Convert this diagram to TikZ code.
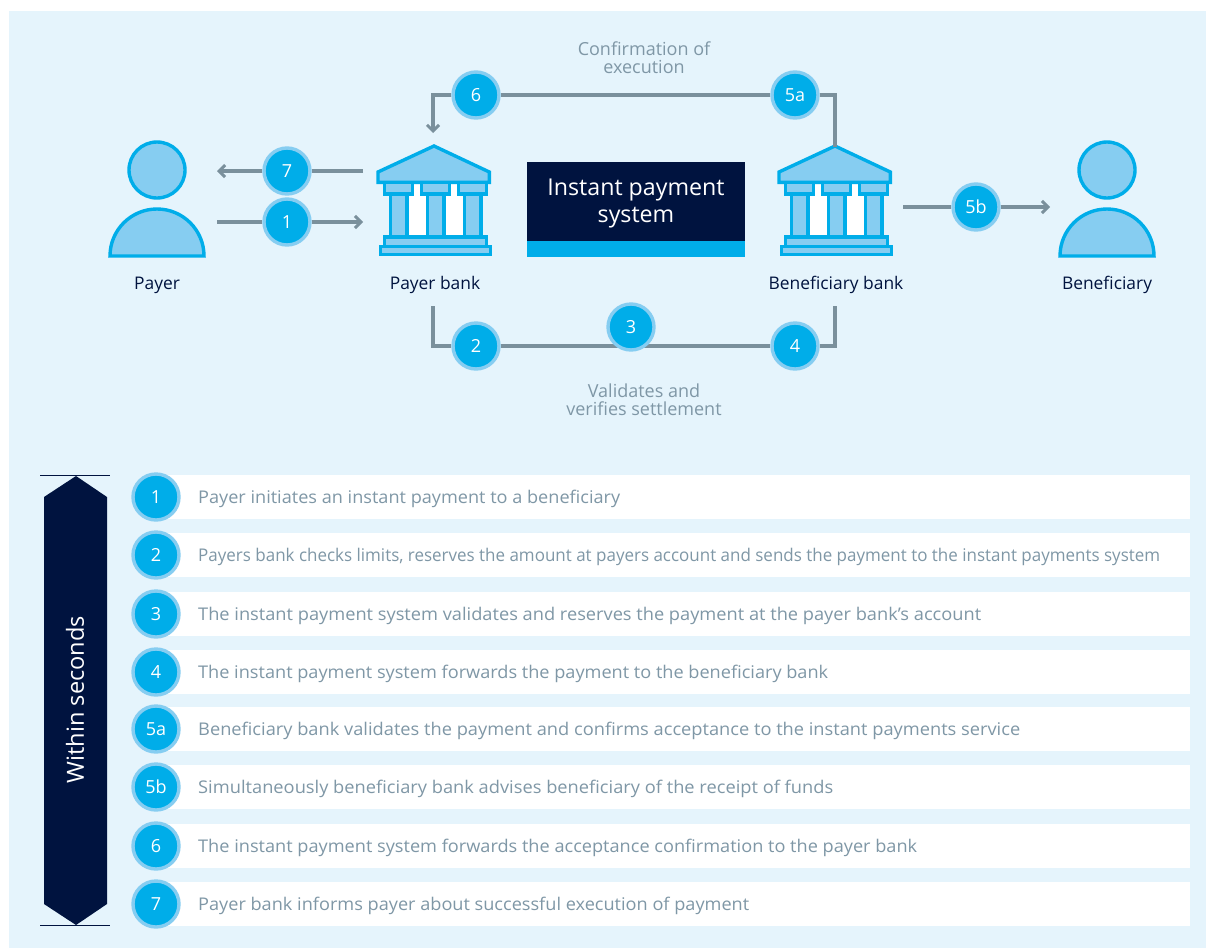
\documentclass[tikz,border=0pt]{standalone}
\usepackage{fontspec}
\setmainfont{Open Sans}
\usetikzlibrary{arrows.meta}
\definecolor{panel}{HTML}{E5F4FC}
\definecolor{navy}{HTML}{00133F}
\definecolor{sky}{HTML}{00ADE9}
\definecolor{ring}{HTML}{86CDF1}
\definecolor{conn}{HTML}{7A909C}
\definecolor{rowtext}{HTML}{7F97A6}
\tikzset{
  x=1pt,y=-1pt,
  badge/.style={circle,fill=sky,draw=ring,line width=3.4pt,minimum size=46pt,inner sep=0pt,text=white,font=\fontsize{18}{18}\selectfont},
  link/.style={draw=conn,line width=3.2pt},
  tip/.style={-{Straight Barb[length=6pt,width=12pt,line width=3pt]}},
  party/.style={text=navy,font=\fontsize{17.4}{17}\selectfont,anchor=base},
  note/.style={text=rowtext,align=center,font=\fontsize{18}{18}\selectfont,anchor=center},
  rowbox/.style={fill=white,draw=none,minimum height=44pt,minimum width=1034pt,inner sep=0pt,anchor=west},
  rowlabel/.style={text=rowtext,anchor=base west,inner sep=0pt,font=\fontsize{17.5}{18}\selectfont},
  iconpart/.style={fill=ring,draw=sky,line width=3.4pt,miter limit=3},
  bank/.pic={
    \fill[white] (-35,-18) rectangle (38,37);
    \path[iconpart,line join=miter] (0,-54) -- (55.3,-28) -- (55.3,-17.7) -- (-56,-17.7) -- (-56,-28) -- cycle;
    \foreach \c in {-35.5,1.5,38.5}{
      \path[iconpart] (\c-13.8,-17.7) rectangle (\c+13.8,-6);
      \path[iconpart] (\c-8.3,-6) rectangle (\c+8.3,37);
    }
    \path[iconpart] (-49.3,37) rectangle (52.3,46.5);
    \path[iconpart] (-53.3,46.5) rectangle (56.3,54.5);
  },
  person/.pic={
    \path[iconpart] (0,-31) circle (28);
    \path[iconpart] (-47,55) arc[start angle=180,end angle=0,x radius=47pt,y radius=47pt] -- cycle;
  }
}
\begin{document}
\begin{tikzpicture}
\useasboundingbox (0,0) rectangle (1206,948);
\fill[white] (0,0) rectangle (1206,948);
\fill[panel] (9,11) rectangle (1206,948);

% icons
\pic at (157,201) {person};
\pic at (1107,201) {person};
\pic at (434,200) {bank};
\pic at (835,200) {bank};

\node[party] (payer) at (157,289) {Payer};
\node[party] (payerbank) at (435,289) {Payer bank};
\node[party] (benbank) at (836,289) {Beneficiary bank};
\node[party] (ben) at (1107,289) {Beneficiary};

% central system
\fill[sky] (527,241) rectangle (745,257);
\node[fill=navy,minimum width=218pt,minimum height=79pt,inner sep=0pt] (ips) at (636,201.5) {};
\node[text=white,align=center,inner sep=0pt,font=\fontsize{23.2}{27}\selectfont] (ipstext) at (636,203.5) {Instant payment\\system};

% free ends of connectors
\coordinate (e7a) at (363,171);
\coordinate (e7b) at (217,171);
\coordinate (e1a) at (217,222);
\coordinate (e1b) at (363,222);
\coordinate (e6) at (433,133);
\coordinate (e5a) at (835,147);
\coordinate (e5ba) at (903,207);
\coordinate (e5bb) at (1050,207);
\coordinate (e2) at (433,306);
\coordinate (e4) at (835,306);

% badges
\node[badge] (b7) at (287,171) {7};
\node[badge] (b1) at (287,222) {1};
\node[badge] (b6) at (476,95) {6};
\node[badge] (b5a) at (795,95) {5a};
\node[badge] (b5b) at (976,207) {5b};
\node[badge] (b2) at (476,346) {2};
\node[badge] (b4) at (795,346) {4};

% connectors
\draw[link] (e7a) -- (b7);
\draw[link,tip] (b7) -- (e7b);
\draw[link] (e1a) -- (b1);
\draw[link,tip] (b1) -- (e1b);
\draw[link] (b5a) -- (b6);
\draw[link,tip] (b6) -| (e6);
\draw[link] (b5a) -| (e5a);
\draw[link] (e5ba) -- (b5b);
\draw[link,tip] (b5b) -- (e5bb);
\draw[link] (e2) |- (b2);
\draw[link] (b2) -- (b4);
\draw[link] (e4) |- (b4);

\node[badge] (b3) at (631,327) {3};

\node[note] (confirm) at (644,58) {Confirmation of\\execution};
\node[note] (valid) at (644,400) {Validates and\\verifies settlement};

% duration arrow
\fill[navy] (76,476) -- (107,497) -- (107,904) -- (76,925) -- (44,904) -- (44,497) -- cycle;
\coordinate (dl1) at (40,475.5); \coordinate (dr1) at (110,475.5);
\coordinate (dl2) at (40,925.5); \coordinate (dr2) at (110,925.5);
\draw[navy,line width=0.8pt] (dl1) -- (dr1);
\draw[navy,line width=0.8pt] (dl2) -- (dr2);
\node[rotate=90,text=white,inner sep=0pt,font=\fontsize{23.6}{24}\selectfont] (within) at (75,699.5) {Within seconds};

% rows
\foreach \yy/\lab/\tw/\txt in {
  497/1/422/Payer initiates an instant payment to a beneficiary,
  555/2/962/{Payers bank checks limits, reserves the amount at payers account and sends the payment to the instant payments system},
  614/3/783/The instant payment system validates and reserves the payment at the payer bank’s account,
  672/4/630/The instant payment system forwards the payment to the beneficiary bank,
  729/5a/822/Beneficiary bank validates the payment and confirms acceptance to the instant payments service,
  787/5b/635/Simultaneously beneficiary bank advises beneficiary of the receipt of funds,
  846/6/719/The instant payment system forwards the acceptance confirmation to the payer bank,
  904/7/551/Payer bank informs payer about successful execution of payment}{
  \node[rowbox] (r\lab) at (156,\yy) {};
  \node[badge] (n\lab) at (156,\yy) {\lab};
  \node[rowlabel] (t\lab) at (198,\yy+6.5) {\resizebox{\tw pt}{\height}{\txt}};
}
\end{tikzpicture}
\end{document}
